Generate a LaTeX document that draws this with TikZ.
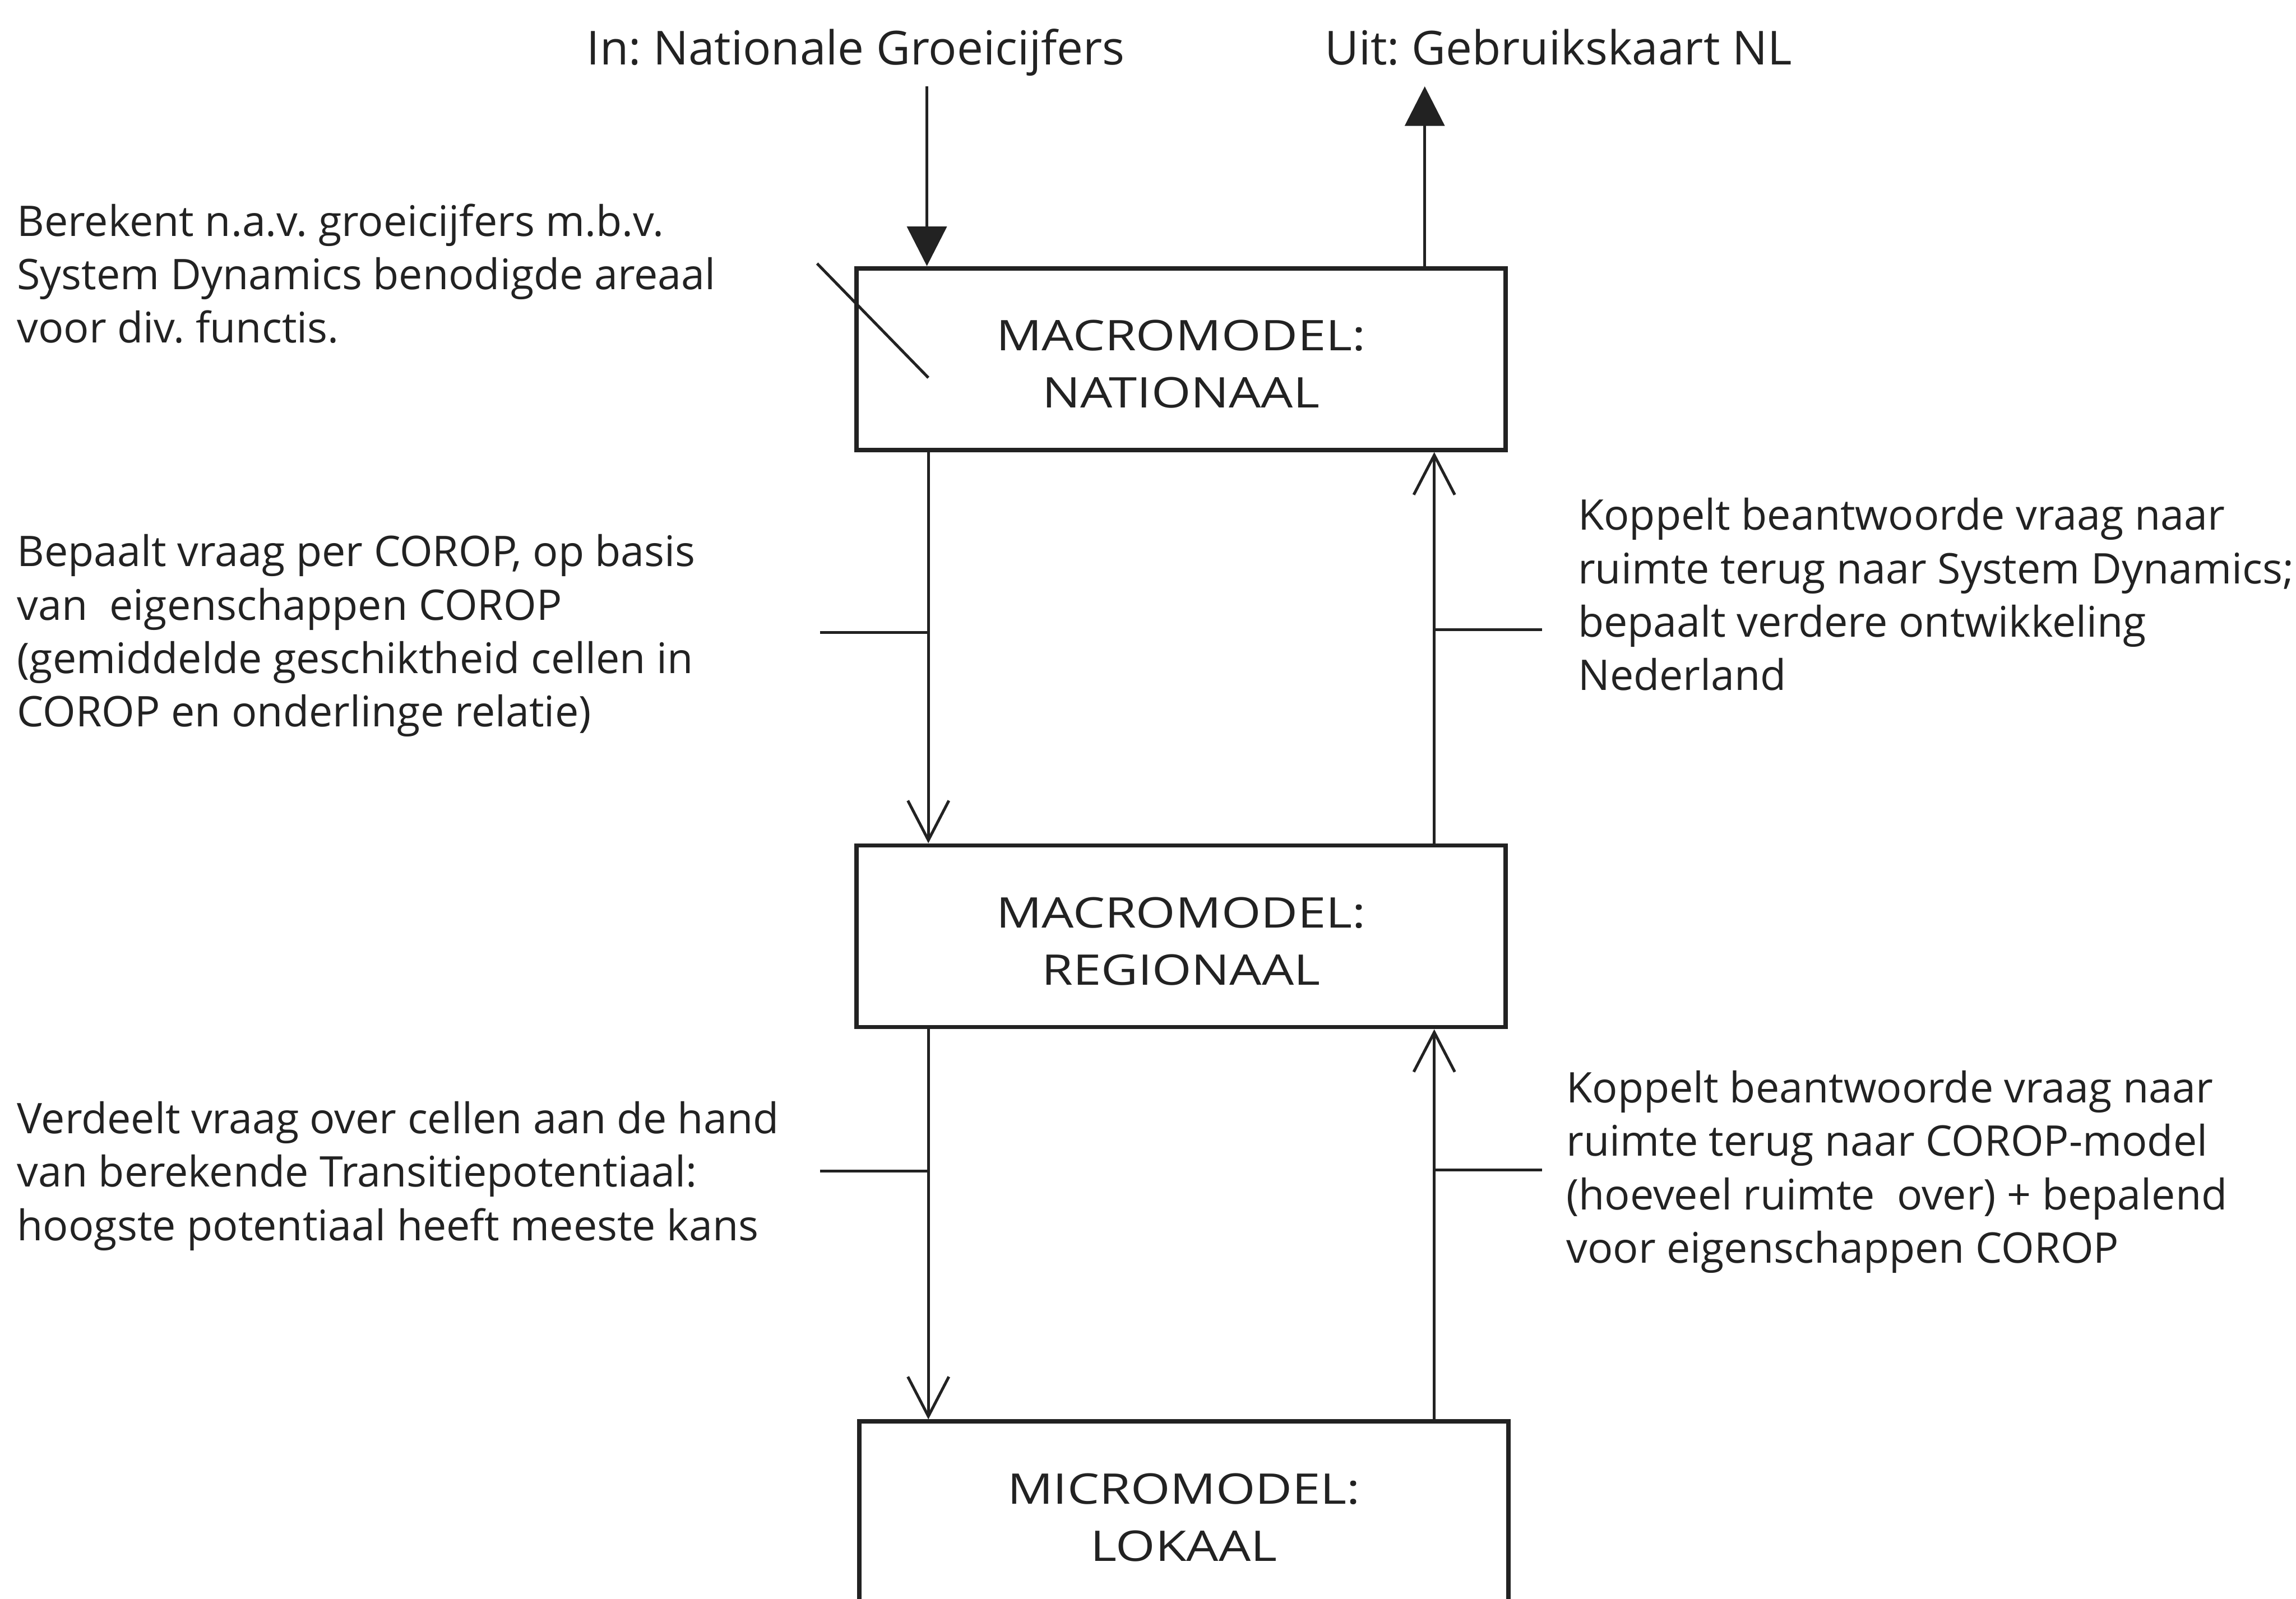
\documentclass[tikz,border=0pt]{standalone}
\usepackage{fontspec}
\setmainfont{Open Sans}
\newfontfamily\notefont{Open Sans}
\newfontfamily\boxface{Open Sans}[FakeStretch=1.2]
\usetikzlibrary{arrows.meta}
\definecolor{ink}{RGB}{34,34,34}
\newcommand\firstlead{\rule{0pt}{7pt}}
\newcommand\boxlead{\rule{0pt}{7.9pt}}
\frenchspacing

\begin{document}
\begin{tikzpicture}[
  x=0.01cm, y=-0.01cm,
  model/.style={draw=ink, line width=0.85pt, minimum width=4.43cm,
    minimum height=1.24cm, inner sep=0pt, align=center, text=ink,
    font=\boxface\fontsize{8.2pt}{11.1pt}\selectfont},
  note/.style={anchor=north west, inner sep=0pt, align=left, text=ink,
    font=\notefont\fontsize{8.2pt}{10.36pt}\selectfont},
  iolabel/.style={anchor=base west, inner sep=0pt, text=ink,
    font=\notefont\fontsize{9.1pt}{11pt}\selectfont},
  flow/.style={draw=ink, line width=0.55pt},
  feed/.style={flow, -{Straight Barb[length=0.27cm, width=0.28cm]}},
  io/.style={flow, -{Triangle[length=0.27cm, width=0.27cm, fill=ink]}}
]
\useasboundingbox (0,0) rectangle (1568,1092);
\clip (0,0) rectangle (1568,1092);

% model levels
\node[model] (nat) at (806.5,245.3) {\boxlead MACROMODEL:\\NATIONAAL};
\node[model] (reg) at (806.5,639.5) {\boxlead MACROMODEL:\\REGIONAAL};
\node[model] (lok) at (808.5,1033) {\boxlead MICROMODEL:\\LOKAAL};

% input and output of the national model
\node[iolabel] (inlabel) at (400,44.4) {In: Nationale Groeicijfers};
\node[iolabel] (outlabel) at (904,44.4) {Uit: Gebruikskaart NL};
\coordinate (inStart) at (633,59);
\coordinate (outEnd) at (973,59);
\draw[io] (inStart) -- (nat.north -| inStart);
\draw[io] (nat.north -| outEnd) -- (outEnd);

% descriptions
\node[note] (n1) at (11,135.9) {\firstlead Berekent n.a.v. groeicijfers m.b.v.\\
  System Dynamics benodigde areaal\\voor div. functis.};
\node[note] (n2) at (11,361.7) {\firstlead Bepaalt vraag per COROP, op basis\\
  van\ \ eigenschappen COROP\\(gemiddelde geschiktheid cellen in\\
  COROP en onderlinge relatie)};
\node[note] (n3) at (1077,336.8) {\firstlead Koppelt beantwoorde vraag naar\\
  ruimte terug naar System Dynamics;\\bepaalt verdere ontwikkeling\\Nederland};
\node[note] (n4) at (11,749) {\firstlead Verdeelt vraag over cellen aan de hand\\
  van berekende Transitiepotentiaal:\\hoogste potentiaal heeft meeste kans};
\node[note] (n5) at (1069,728) {\firstlead Koppelt beantwoorde vraag naar\\
  ruimte terug naar COROP-model\\(hoeveel ruimte\ \ over) + bepalend\\
  voor eigenschappen COROP};

% flows between the levels
\coordinate (colL) at (634,0);
\coordinate (colR) at (979.5,0);
\draw[feed] (nat.south -| colL) -- (reg.north -| colL);
\draw[feed] (reg.north -| colR) -- (nat.south -| colR);
\draw[feed] (reg.south -| colL) -- (lok.north -| colL);
\draw[feed] (lok.north -| colR) -- (reg.south -| colR);

% pointers from the descriptions
\coordinate (s1) at (558,180);
\coordinate (s2) at (634,258);
\draw[flow] (s1) -- (s2);
\coordinate (t1) at (560,432);
\coordinate (t2) at (1053,430);
\coordinate (t3) at (560,800);
\coordinate (t4) at (1053,799);
\draw[flow] (t1) -- (t1 -| colL);
\draw[flow] (t2) -- (t2 -| colR);
\draw[flow] (t3) -- (t3 -| colL);
\draw[flow] (t4) -- (t4 -| colR);
\end{tikzpicture}
\end{document}
